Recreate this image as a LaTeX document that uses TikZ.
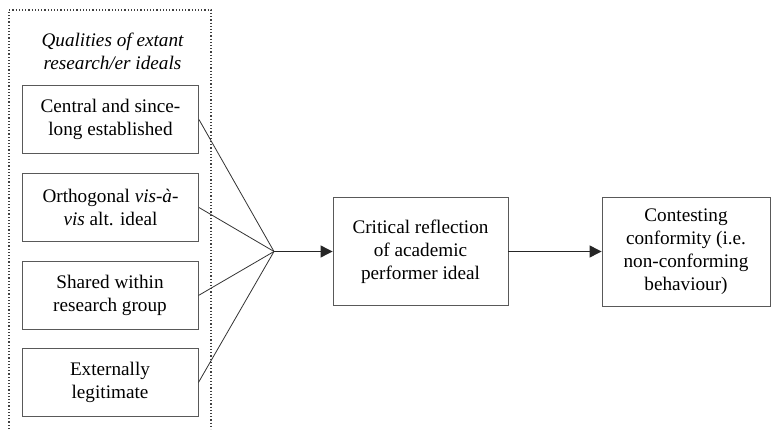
\documentclass[tikz,border=0pt]{standalone}
\usepackage{fontspec}
\setmainfont{Liberation Serif}
\usetikzlibrary{arrows.meta}
\begin{document}
\begin{tikzpicture}[x=1pt,y=1pt,
  box/.style={draw=black!65, line width=0.9pt, minimum width=176pt, minimum height=68pt, align=center, inner sep=0pt,
    font=\fontsize{19.2}{22.8}\selectfont},
  bigbox/.style={draw=black!65, line width=0.9pt, minimum height=108pt, align=center, inner sep=0pt,
    font=\fontsize{19.2}{22.8}\selectfont},
  link/.style={draw=black!80, line width=0.8pt},
  arr/.style={draw=black!85, line width=1.2pt, -{Triangle[length=12pt,width=12pt]}}]
\useasboundingbox (0,0) rectangle (771,429);
% dotted frame
\draw[black!75, line width=1.2pt, dotted] (9,0) -- (9,419) -- (211,419) -- (211,0);
\node[align=center, font=\fontsize{19.2}{22.8}\selectfont\itshape] (title) at (112.5,378) {Qualities of extant\\research/er ideals};
\node[box] (b1) at (110.5,309.5) {Central and since-\\long established};
\node[box] (b2) at (110.5,221.5) {Orthogonal \textit{vis-à-}\\\textit{vis} alt. ideal};
\node[box] (b3) at (110,133.5) {Shared within\\research group};
\node[box] (b4) at (110,46.5) {Externally\\legitimate};
\coordinate (j) at (274,177.5);
\node[bigbox, minimum width=175pt] (crit) at (420.5,177.5) {Critical reflection\\of academic\\performer ideal};
\node[bigbox, minimum width=168pt, minimum height=109pt] (cont) at (686,177.5) {Contesting\\conformity (i.e.\\non-conforming\\behaviour)};
\foreach \b in {b1,b2,b3,b4} \draw[link] (\b.east) -- (j);
\draw[arr] (j) -- (crit.west);
\draw[arr] (crit.east) -- (cont.west);
\end{tikzpicture}
\end{document}
